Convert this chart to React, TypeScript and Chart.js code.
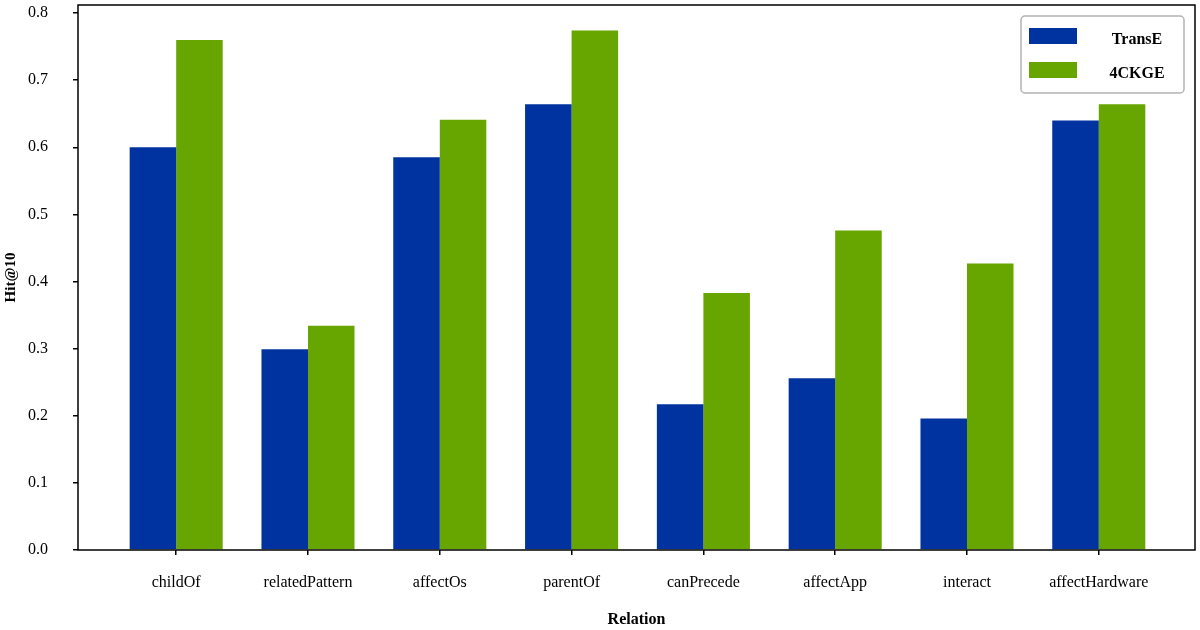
import { useEffect, useRef } from "react"
import { Chart, registerables } from "chart.js"
import type { Plugin } from "chart.js"

Chart.register(...registerables)

const categories = ["childOf", "relatedPattern", "affectOs", "parentOf", "canPrecede", "affectApp", "interact", "affectHardware"]
const transE = [0.6, 0.299, 0.585, 0.664, 0.217, 0.256, 0.196, 0.64]
const ckge = [0.76, 0.334, 0.641, 0.774, 0.383, 0.476, 0.427, 0.664]
const yTicks = [0, 0.1, 0.2, 0.3, 0.4, 0.5, 0.6, 0.7, 0.8]

const FONT = "'Liberation Serif', 'Times New Roman', serif"
const BLUE = "#0033a0"
const GREEN = "#67a600"

// box round the plot area and the legend in the top right corner
const framePlugin: Plugin<"bar"> = {
  id: "frame",
  afterDraw(chart) {
    const { ctx, chartArea } = chart
    ctx.save()
    ctx.strokeStyle = "#000"
    ctx.lineWidth = 1.5
    ctx.strokeRect(chartArea.left, chartArea.top, chartArea.right - chartArea.left, chartArea.bottom - chartArea.top)

    const bx = chartArea.right - 174
    const by = chartArea.top + 11
    ctx.strokeStyle = "#b3b3b3"
    ctx.lineWidth = 1.5
    ctx.beginPath()
    ctx.roundRect(bx, by, 163, 77, 4)
    ctx.stroke()

    ctx.font = `bold 16px ${FONT}`
    ctx.textAlign = "center"
    ctx.textBaseline = "middle"
    chart.data.datasets.forEach((ds, i) => {
      const sy = by + 12 + i * 34
      ctx.fillStyle = ds.backgroundColor as string
      ctx.fillRect(bx + 8, sy, 48, 16)
      ctx.fillStyle = "#000"
      ctx.fillText(ds.label ?? "", bx + 116, sy + 12)
    })
    ctx.restore()
  },
}

export default function App() {
  const chartRef = useRef<HTMLCanvasElement>(null)
  const chartInstance = useRef<Chart | null>(null)

  useEffect(() => {
    if (!chartRef.current) return
    if (chartInstance.current) chartInstance.current.destroy()
    const ctx = chartRef.current.getContext("2d")
    if (!ctx) return

    chartInstance.current = new Chart(ctx, {
      type: "bar",
      data: {
        datasets: [
          {
            label: "TransE",
            data: transE.map((v, i) => ({ x: i, y: v })),
            backgroundColor: BLUE,
            borderWidth: 0,
            categoryPercentage: 0.706,
            barPercentage: 1,
          },
          {
            label: "4CKGE",
            data: ckge.map((v, i) => ({ x: i, y: v })),
            backgroundColor: GREEN,
            borderWidth: 0,
            categoryPercentage: 0.706,
            barPercentage: 1,
          },
        ],
      },
      options: {
        animation: false,
        responsive: true,
        maintainAspectRatio: false,
        layout: { padding: { top: 5, right: 5, left: 0, bottom: 0 } },
        scales: {
          x: {
            type: "linear",
            offset: false,
            min: -0.745,
            max: 7.73,
            afterBuildTicks: (scale) => {
              scale.ticks = categories.map((_, i) => ({ value: i }))
            },
            afterFit: (scale) => {
              scale.height = 80
              scale.paddingLeft = 0
              scale.paddingRight = 0
            },
            border: { display: false },
            grid: { drawOnChartArea: false, drawTicks: true, tickLength: 5, color: "#000", lineWidth: 1.5, offset: false },
            ticks: {
              autoSkip: false,
              maxRotation: 0,
              padding: 18,
              color: "#000",
              font: { family: FONT, size: 16 },
              callback: (v) => categories[Number(v)] ?? "",
            },
            title: {
              display: true,
              text: "Relation",
              color: "#000",
              font: { family: FONT, size: 16, weight: "bold" },
              padding: { top: 0, bottom: 1 },
            },
          },
          y: {
            min: 0,
            max: 0.812,
            afterBuildTicks: (scale) => {
              scale.ticks = yTicks.map((v) => ({ value: v }))
            },
            afterFit: (scale) => {
              scale.width = 78
              scale.paddingTop = 0
              scale.paddingBottom = 0
            },
            border: { display: false },
            grid: { drawOnChartArea: false, drawTicks: true, tickLength: 5, color: "#000", lineWidth: 1.5 },
            ticks: {
              padding: 25,
              color: "#000",
              font: { family: FONT, size: 16 },
              callback: (v) => Number(v).toFixed(1),
            },
            title: {
              display: true,
              text: "Hit@10",
              color: "#000",
              font: { family: FONT, size: 15, weight: "bold" },
              padding: { top: 2, bottom: 0 },
            },
          },
        },
        plugins: {
          legend: { display: false },
          tooltip: { enabled: false },
        },
      },
      plugins: [framePlugin],
    })

    return () => {
      if (chartInstance.current) {
        chartInstance.current.destroy()
        chartInstance.current = null
      }
    }
  }, [])

  return (
    <div style={{ position: "absolute", left: 0, top: 0, width: 1200, height: 630, background: "#fff" }}>
      <canvas ref={chartRef} />
    </div>
  )
}
